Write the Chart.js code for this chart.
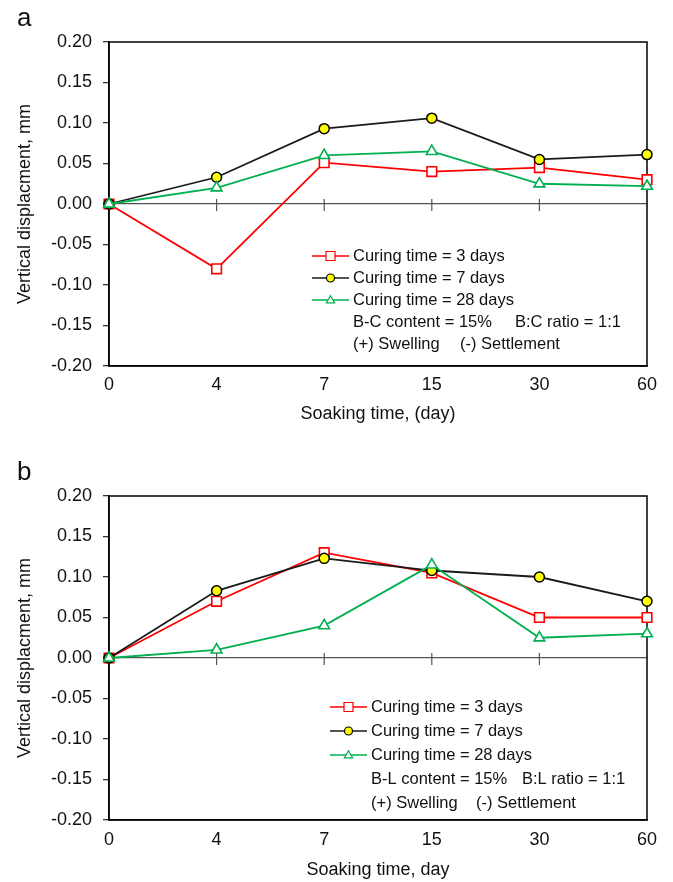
<!DOCTYPE html>
<html>
<head>
<meta charset="utf-8">
<script src="https://cdn.jsdelivr.net/npm/chart.js"></script>
<style>
  body { margin: 0; padding: 0; background: #fff; }
  canvas { display: block; }
</style>
</head>
<body>
  <canvas id="chartA" width="673" height="441"></canvas>
  <canvas id="chartB" width="673" height="441"></canvas>

  <script>
    // soaking time categories (evenly spaced in the figure)
    const soakDays = ['0', '4', '7', '15', '30', '60'];

    // panel a: bentonite-cement
    const bcCure3 = [0, -0.080, 0.051, 0.040, 0.045, 0.030];
    const bcCure7 = [0, 0.033, 0.093, 0.106, 0.055, 0.061];
    const bcCure28 = [0, 0.020, 0.060, 0.065, 0.025, 0.022];

    // panel b: bentonite-lime
    const blCure3 = [0, 0.070, 0.130, 0.105, 0.050, 0.050];
    const blCure7 = [0, 0.083, 0.123, 0.108, 0.100, 0.070];
    const blCure28 = [0, 0.010, 0.040, 0.115, 0.025, 0.030];

    const curingLabels = ['Curing time = 3 days', 'Curing time = 7 days', 'Curing time = 28 days'];
    const bcNotes = [['B-C content = 15%', 'B:C ratio = 1:1'], ['(+) Swelling', '(-) Settlement']];
    const blNotes = [['B-L content = 15%', 'B:L ratio = 1:1'], ['(+) Swelling', '(-) Settlement']];

    const yMin = -0.20, yMax = 0.20, yStep = 0.05;

    const FONT = "'Liberation Sans', Arial, sans-serif";

    function drawMarker(ctx, style, x, y, r) {
      ctx.beginPath();
      if (style === 'rect') {
        ctx.rect(x - r, y - r, 2 * r, 2 * r);
      } else if (style === 'triangle') {
        const h = r * 1.8;
        ctx.moveTo(x, y - h * 0.6);
        ctx.lineTo(x + r * 1.05, y + h * 0.4);
        ctx.lineTo(x - r * 1.05, y + h * 0.4);
        ctx.closePath();
      } else {
        ctx.arc(x, y, r, 0, Math.PI * 2);
      }
      ctx.fill();
      ctx.stroke();
    }

    // frame around plot, small ticks on the zero line, legend + notes, panel letter
    const panelDecor = {
      id: 'panelDecor',
      beforeDatasetsDraw(chart, args, opts) {
        const ctx = chart.ctx;
        const a = chart.chartArea;
        const xs = chart.scales.x, ys = chart.scales.y;
        ctx.save();
        ctx.strokeStyle = '#000';
        ctx.lineWidth = 1.5;
        ctx.strokeRect(a.left, a.top, a.right - a.left, a.bottom - a.top);
        const y0 = ys.getPixelForValue(0);
        ctx.strokeStyle = '#555';
        ctx.lineWidth = 1.2;
        for (let i = 1; i < soakDays.length - 1; i++) {
          const x = xs.getPixelForValue(i);
          ctx.beginPath();
          ctx.moveTo(x, y0 - 5);
          ctx.lineTo(x, y0 + 7);
          ctx.stroke();
        }
        ctx.restore();
      },
      afterDraw(chart, args, opts) {
        const ctx = chart.ctx;
        const a = chart.chartArea;
        ctx.save();
        ctx.fillStyle = '#111';
        ctx.font = '26px ' + FONT;
        ctx.textBaseline = 'alphabetic';
        ctx.fillText(opts.letter, 17, opts.letterY);

        ctx.font = '16.5px ' + FONT;
        ctx.textBaseline = 'middle';
        const lx = a.left + opts.legendX;
        const ly = a.top + opts.legendY;
        chart.data.datasets.forEach((ds, i) => {
          const y = ly + i * opts.rowH;
          ctx.strokeStyle = ds.borderColor;
          ctx.lineWidth = 1.5;
          ctx.beginPath();
          ctx.moveTo(lx, y);
          ctx.lineTo(lx + 37, y);
          ctx.stroke();
          ctx.fillStyle = ds.pointBackgroundColor;
          ctx.strokeStyle = ds.pointBorderColor;
          ctx.lineWidth = 1.2;
          drawMarker(ctx, ds.pointStyle, lx + 18.5, y, ds.pointStyle === 'rect' ? 4.5 : 4);
          ctx.fillStyle = '#111';
          ctx.fillText(ds.label, lx + 41, y);
        });
        opts.notes.forEach((row, j) => {
          const y = ly + (3 + j) * opts.rowH;
          ctx.fillText(row[0], lx + 41, y);
          ctx.fillText(row[1], lx + opts.noteCol[j], y);
        });
        ctx.restore();
      }
    };

    function makePanel(id, d3, d7, d28, xTitle, layout) {
      return new Chart(document.getElementById(id), {
        type: 'line',
        data: {
          labels: soakDays,
          datasets: [{
            label: curingLabels[0],
            data: d3,
            borderColor: '#ff0000',
            borderWidth: 1.8,
            pointStyle: 'rect',
            pointRadius: 6.8,
            pointBackgroundColor: '#ffffff',
            pointBorderColor: '#ff0000',
            pointBorderWidth: 1.6,
            order: 3
          }, {
            label: curingLabels[1],
            data: d7,
            borderColor: '#1a1a1a',
            borderWidth: 1.8,
            pointStyle: 'circle',
            pointRadius: 5,
            pointBackgroundColor: '#ffff00',
            pointBorderColor: '#000000',
            pointBorderWidth: 1.5,
            order: 2
          }, {
            label: curingLabels[2],
            data: d28,
            borderColor: '#00b050',
            borderWidth: 1.8,
            pointStyle: 'triangle',
            pointRadius: 6.2,
            pointBackgroundColor: '#ffffff',
            pointBorderColor: '#00b050',
            pointBorderWidth: 1.6,
            order: 1
          }]
        },
        options: {
          responsive: false,
          animation: false,
          layout: { padding: { top: layout.top, right: 26, bottom: layout.bottom, left: 0 } },
          plugins: {
            legend: { display: false },
            tooltip: { enabled: false },
            panelDecor: layout.decor
          },
          scales: {
            x: {
              offset: false,
              grid: { display: false, drawTicks: false },
              border: { display: true, color: '#000', width: 1.5 },
              ticks: { color: '#111', font: { size: 18, family: FONT }, padding: layout.xPad, maxRotation: 0 },
              title: { display: true, text: xTitle, color: '#111', font: { size: 18, family: FONT }, padding: { top: 0, bottom: 1 } },
              afterFit(scale) { scale.height = layout.xHeight; }
            },
            y: {
              min: yMin,
              max: yMax,
              grid: {
                color: c => (Math.abs(c.tick.value) < 1e-9 ? '#555' : 'rgba(0,0,0,0)'),
                lineWidth: 1.3,
                tickColor: '#333',
                tickLength: 6
              },
              border: { display: true, color: '#000', width: 1.5 },
              ticks: {
                stepSize: yStep,
                color: '#111',
                padding: 11,
                font: { size: 18, family: FONT },
                callback: v => v.toFixed(2)
              },
              title: { display: true, text: 'Vertical displacment, mm', color: '#111', font: { size: 18, family: FONT }, padding: { top: 14, bottom: 0 } },
              afterFit(scale) { scale.width = 109; }
            }
          }
        },
        plugins: [panelDecor]
      });
    }

    makePanel('chartA', bcCure3, bcCure7, bcCure28, 'Soaking time, (day)', {
      top: 42, bottom: 15, xHeight: 60, xPad: 8,
      decor: { letter: 'a', letterY: 26, legendX: 203, legendY: 214, rowH: 22, notes: bcNotes, noteCol: [203, 148] }
    });

    makePanel('chartB', blCure3, blCure7, blCure28, 'Soaking time, day', {
      top: 55, bottom: 0, xHeight: 62, xPad: 9,
      decor: { letter: 'b', letterY: 39, legendX: 221, legendY: 211, rowH: 24, notes: blNotes, noteCol: [192, 146] }
    });
  </script>
</body>
</html>
